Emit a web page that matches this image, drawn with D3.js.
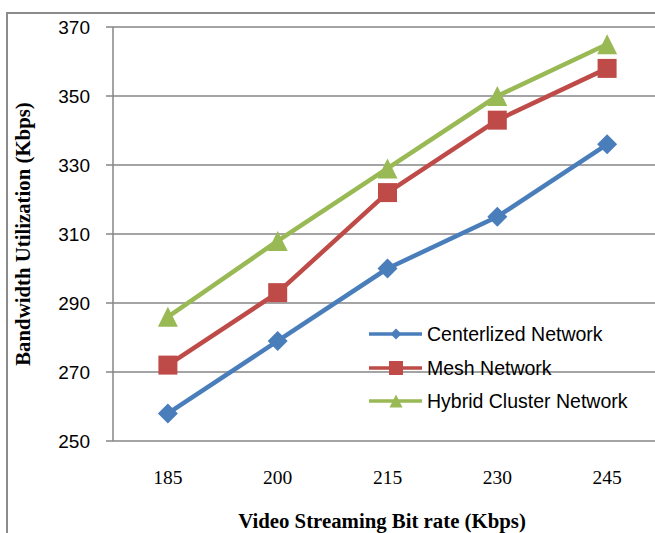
<!DOCTYPE html>
<html>
<head>
<meta charset="utf-8">
<script src="https://cdn.jsdelivr.net/npm/d3@7"></script>
<style>
  html, body { margin: 0; padding: 0; background: #fff; }
  svg { display: block; }
</style>
</head>
<body>
<svg id="chart" width="655" height="533"></svg>
<script>
// Bit rates on the x axis (Kbps)
const bitRates = [185, 200, 215, 230, 245];
// Bandwidth utilization per network type (Kbps)
const centralized = [258, 279, 300, 315, 336];
const mesh = [272, 293, 322, 343, 358];
const hybrid = [286, 308, 329, 350, 365];
// Value axis ticks
const yTicks = [250, 270, 290, 310, 330, 350, 370];

const seriesNames = ["Centerlized Network", "Mesh Network", "Hybrid Cluster Network"];
const seriesColors = ["#4a7ebb", "#be4b48", "#98b954"];
const seriesShapes = ["diamond", "square", "triangle"];
const seriesValues = [centralized, mesh, hybrid];

const svg = d3.select("#chart");

// Frame around the chart
svg.append("path")
  .attr("d", "M7,533 V13 H655")
  .attr("fill", "none")
  .attr("stroke", "#8c8c8c")
  .attr("stroke-width", 2);

const x = d3.scalePoint().domain(bitRates).range([113, 662]).padding(0.5);
const y = d3.scaleLinear().domain([250, 370]).range([441, 27]);

// Gridlines
svg.append("g")
  .selectAll("line")
  .data(yTicks)
  .join("line")
  .attr("x1", 106).attr("x2", 662)
  .attr("y1", d => y(d)).attr("y2", d => y(d))
  .attr("stroke", "#868686")
  .attr("stroke-width", 1.5);

// Vertical value axis line
svg.append("line")
  .attr("x1", 113).attr("x2", 113)
  .attr("y1", y(370)).attr("y2", y(250))
  .attr("stroke", "#868686")
  .attr("stroke-width", 1.5);

// Y tick labels
svg.append("g")
  .selectAll("text")
  .data(yTicks)
  .join("text")
  .attr("x", 90)
  .attr("y", d => y(d))
  .attr("dy", "0.36em")
  .attr("text-anchor", "end")
  .attr("font-family", "Liberation Sans, Arial, sans-serif")
  .attr("font-size", 19)
  .attr("fill", "#000")
  .text(d => d);

// X tick labels
svg.append("g")
  .selectAll("text")
  .data(bitRates)
  .join("text")
  .attr("x", d => x(d))
  .attr("y", 484)
  .attr("text-anchor", "middle")
  .attr("font-family", "Liberation Serif, Times New Roman, serif")
  .attr("font-size", 19.5)
  .attr("fill", "#000")
  .text(d => d);

// Axis titles
svg.append("text")
  .attr("x", 382)
  .attr("y", 528)
  .attr("text-anchor", "middle")
  .attr("font-family", "Liberation Serif, Times New Roman, serif")
  .attr("font-weight", "bold")
  .attr("font-size", 20.8)
  .text("Video Streaming Bit rate (Kbps)");

svg.append("text")
  .attr("transform", "translate(30,234) rotate(-90)")
  .attr("text-anchor", "middle")
  .attr("font-family", "Liberation Serif, Times New Roman, serif")
  .attr("font-weight", "bold")
  .attr("font-size", 20.8)
  .text("Bandwidth Utilization (Kbps)");

// Marker path generator
function markerPath(shape, s) {
  if (shape === "diamond") {
    return `M0,${-s}L${s},0L0,${s}L${-s},0Z`;
  } else if (shape === "square") {
    return `M${-s},${-s}H${s}V${s}H${-s}Z`;
  } else {
    return `M0,${-s}L${s},${s}L${-s},${s}Z`;
  }
}
const markerSize = { diamond: 10, square: 9.5, triangle: 10 };
const legendMarkerSize = { diamond: 5.5, square: 7, triangle: 6.5 };

const line = d3.line().x((d, i) => x(bitRates[i])).y(d => y(d));

seriesValues.forEach((vals, k) => {
  const g = svg.append("g");
  g.append("path")
    .datum(vals)
    .attr("d", line)
    .attr("fill", "none")
    .attr("stroke", seriesColors[k])
    .attr("stroke-width", 4.5)
    .attr("stroke-linejoin", "round");
  g.selectAll("path.m")
    .data(vals)
    .join("path")
    .attr("class", "m")
    .attr("transform", (d, i) => `translate(${x(bitRates[i])},${y(d)})`)
    .attr("d", markerPath(seriesShapes[k], markerSize[seriesShapes[k]]))
    .attr("fill", seriesColors[k]);
});

// Legend
const legendY = [334, 368, 401];
const legend = svg.append("g");
seriesNames.forEach((name, k) => {
  const ly = legendY[k];
  legend.append("line")
    .attr("x1", 369).attr("x2", 422)
    .attr("y1", ly).attr("y2", ly)
    .attr("stroke", seriesColors[k])
    .attr("stroke-width", 3.5);
  legend.append("path")
    .attr("transform", `translate(396,${ly})`)
    .attr("d", markerPath(seriesShapes[k], legendMarkerSize[seriesShapes[k]]))
    .attr("fill", seriesColors[k]);
  legend.append("text")
    .attr("x", 427)
    .attr("y", ly + 7)
    .attr("font-family", "Liberation Sans, Arial, sans-serif")
    .attr("font-size", 19.5)
    .attr("fill", "#000")
    .text(name);
});
</script>
</body>
</html>
